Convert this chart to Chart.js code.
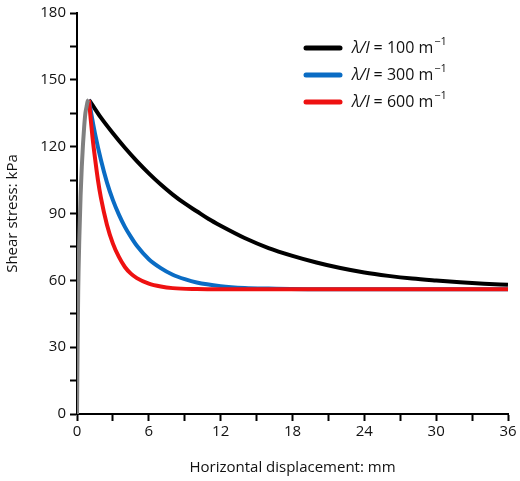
<!DOCTYPE html>
<html><head><meta charset="utf-8">
<script src="https://cdn.jsdelivr.net/npm/chart.js@4/dist/chart.umd.min.js"></script>
<style>html,body{margin:0;padding:0;background:#fff}#w{width:520px;height:481px}</style>
</head><body><div id="w"><canvas id="c"></canvas></div>
<script>
const riseX = [0,0.05,0.1,0.2,0.3,0.4,0.5,0.6,0.7,0.8,0.9,1.0];
const riseY = [0,30,55,80,98,111,121,129,135,138,140.5,141];
const blackX = [1,1.5,2,3,4,5,6,7,8,9,10,11,12,14,16,18,20,22,24,26,28,30,32,34,36];
const blackY = [141,137,133,126,119.5,113.5,108,103,98.5,94.5,91,87.5,84.5,79,74.5,71,68,65.5,63.5,62,60.8,59.9,59.1,58.5,58];
const blueX = [1,1.25,1.5,2,2.5,3,3.5,4,4.5,5,6,7,8,9,10,12,14,16,20,36];
const blueY = [141,133,126,114,104,96,89.5,84,79.5,75.5,69.5,65.5,62.5,60.5,59,57.4,56.6,56.3,56,56];
const redX = [1,1.15,1.3,1.5,1.75,2,2.5,3,3.5,4,4.5,5,6,7,8,10,12,36];
const redY = [141,132,124,115,105,97,85,76.5,70.5,66,63,61,58.5,57.2,56.5,56.1,56,56];
const legendLabels = ['100','300','600'];
const colors = ['#000000','#0a6cc4','#ee1111'];
const pts = (xs,ys)=>xs.map((x,i)=>({x,y:ys[i]}));
const mk = (label,xs,ys,col,order)=>({label,data:pts(xs,ys),borderColor:col,borderWidth:4,pointRadius:0,cubicInterpolationMode:'monotone',fill:false,order});
const legendPlugin = {id:'lg',afterDraw(ch){
  const c=ch.ctx; c.save();
  legendLabels.forEach((l,i)=>{
    const y=48+i*27;
    c.strokeStyle=colors[i]; c.lineWidth=5; c.lineCap='round';
    c.beginPath(); c.moveTo(306,y); c.lineTo(340,y); c.stroke();
    c.fillStyle='#111'; c.textBaseline='middle';
    c.font='italic 16px "Open Sans"'; c.fillText('λ/l',352,y);
    let x=352+c.measureText('λ/l').width;
    c.font='16px "Open Sans"'; const t=' = '+l+' m'; c.fillText(t,x,y);
    x+=c.measureText(t).width;
    c.font='11px "Open Sans"'; c.fillText('−1',x+1,y-6);
  });
  c.restore();
}};
const tickCb = v => (v%30===0 ? v : '');
const tickCbX = v => (v%6===0 ? v : '');
new Chart(document.getElementById('c'),{
  type:'line',
  data:{datasets:[
    mk('rise',riseX,riseY,'#808080',0),
    mk('100',blackX,blackY,colors[0],3),
    mk('300',blueX,blueY,colors[1],2),
    mk('600',redX,redY,colors[2],1)
  ]},
  options:{
    responsive:true,maintainAspectRatio:false,animation:false,
    layout:{padding:{top:10,right:12}},
    plugins:{legend:{display:false},tooltip:{enabled:false}},
    scales:{
      x:{type:'linear',min:0,max:36,
        ticks:{stepSize:3,autoSkip:false,callback:tickCbX,color:'#111',font:{family:'Open Sans',size:15},maxRotation:0,padding:2},
        grid:{drawOnChartArea:false,color:'#000',tickLength:7,tickWidth:2},
        border:{color:'#000',width:2},
        title:{display:true,text:'Horizontal displacement: mm',color:'#111',font:{family:'Open Sans',size:15},padding:{top:0}},
        afterFit(s){s.height=67;}},
      y:{min:0,max:180,
        ticks:{stepSize:15,autoSkip:false,callback:tickCb,color:'#111',font:{family:'Open Sans',size:15},padding:4},
        grid:{drawOnChartArea:false,color:'#000',tickLength:7,tickWidth:2},
        border:{color:'#000',width:2},
        title:{display:true,text:'Shear stress: kPa',color:'#111',font:{family:'Open Sans',size:15}},
        afterFit(s){s.width=77;}}
    }
  },
  plugins:[legendPlugin]
});
</script></body></html>
